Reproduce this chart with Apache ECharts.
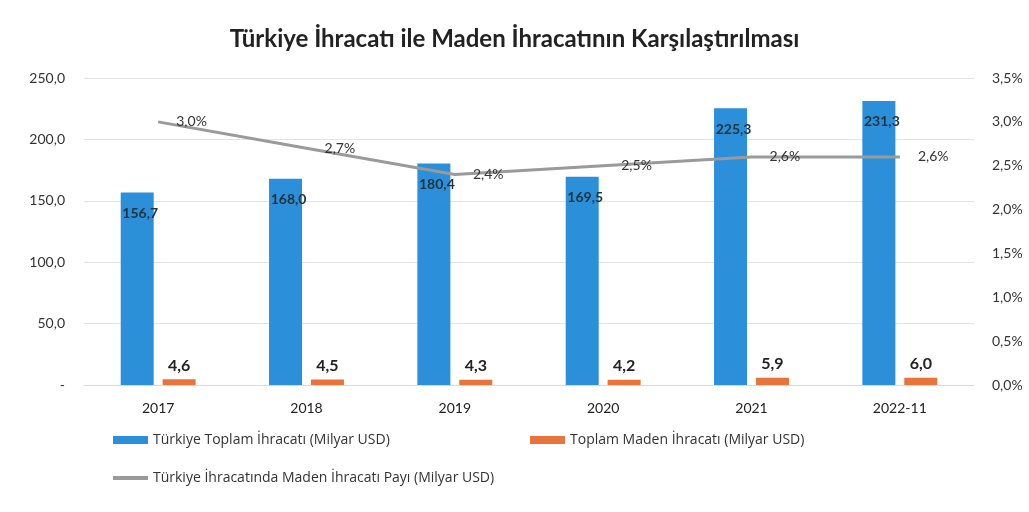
<!DOCTYPE html>
<html>
<head>
<meta charset="utf-8">
<script src="https://cdn.jsdelivr.net/npm/echarts@6/dist/echarts.min.js"></script>
<style>
  html, body { margin: 0; padding: 0; background: #fff; }
  #chart { width: 1029px; height: 512px; }
</style>
</head>
<body>
<div id="chart"></div>
<script>
  var categories = ['2017', '2018', '2019', '2020', '2021', '2022-11']
  var totalExport = [156.7, 168.0, 180.4, 169.5, 225.3, 231.3]
  var miningExport = [4.6, 4.5, 4.3, 4.2, 5.9, 6.0]
  var miningShare = [3.0, 2.7, 2.4, 2.5, 2.6, 2.6]

  var nameTotal = 'Türkiye Toplam İhracatı (Milyar USD)'
  var nameMining = 'Toplam Maden İhracatı (Milyar USD)'
  var nameShare = 'Türkiye İhracatında Maden İhracatı Payı (Milyar USD)'

  var fontFam = 'Lato, "Open Sans", sans-serif'
  var legendFont = '"Open Sans", sans-serif'

  function comma(v, d) {
    return v.toFixed(d).replace('.', ',')
  }

  var chart = echarts.init(document.getElementById('chart'))
  chart.setOption({
    animation: false,
    textStyle: { fontFamily: fontFam },
    title: {
      text: 'Türkiye İhracatı ile Maden İhracatının Karşılaştırılması',
      left: 'center',
      top: 22,
      textStyle: { fontSize: 24, fontWeight: 'bold', color: '#222', fontFamily: fontFam }
    },
    legend: [
      {
        left: 113, top: 433, padding: 0, itemWidth: 35, itemHeight: 8,
        data: [{ name: nameTotal, icon: 'rect' }],
        textStyle: { fontSize: 14, color: '#333', fontFamily: legendFont }
      },
      {
        left: 530, top: 433, padding: 0, itemWidth: 35, itemHeight: 8,
        data: [{ name: nameMining, icon: 'rect' }],
        textStyle: { fontSize: 14, color: '#333', fontFamily: legendFont }
      },
      {
        left: 113, top: 471, padding: 0, itemWidth: 35, itemHeight: 4,
        data: [{ name: nameShare, icon: 'rect' }],
        textStyle: { fontSize: 14, color: '#333', fontFamily: legendFont }
      }
    ],
    grid: { left: 84, right: 55, top: 78, bottom: 127 },
    xAxis: {
      type: 'category',
      data: categories,
      axisTick: { show: false },
      axisLine: { lineStyle: { color: '#d9d9d9' } },
      axisLabel: { margin: 16, fontSize: 14, color: '#222' }
    },
    yAxis: [
      {
        type: 'value', min: 0, max: 250, interval: 50,
        axisLabel: {
          margin: 19, fontSize: 14, color: '#333',
          formatter: function (v) { return v === 0 ? '-' : comma(v, 1) }
        },
        splitLine: { lineStyle: { color: '#e4e4e4' } }
      },
      {
        type: 'value', min: 0, max: 3.5, interval: 0.5,
        axisLabel: {
          margin: 18, fontSize: 14, color: '#333',
          formatter: function (v) { return comma(v, 1) + '%' }
        },
        splitLine: { show: false }
      }
    ],
    series: [
      {
        name: nameTotal, type: 'bar', data: totalExport,
        barWidth: 33, barGap: '27%',
        itemStyle: { color: '#2b8fd9' },
        label: {
          show: true, position: 'insideTop', distance: 14, offset: [3, 0],
          fontSize: 14, fontWeight: 'bold', color: '#1d3440',
          formatter: function (p) { return comma(p.value, 1) }
        }
      },
      {
        name: nameMining, type: 'bar', data: miningExport,
        barWidth: 33,
        itemStyle: { color: '#e8743b' },
        label: {
          show: true, position: 'top', distance: 6,
          fontSize: 16, fontWeight: 'bold', color: '#222',
          formatter: function (p) { return comma(p.value, 1) }
        }
      },
      {
        name: nameShare, type: 'line', yAxisIndex: 1, data: miningShare,
        symbol: 'circle', symbolSize: 0.1, showSymbol: true,
        lineStyle: { color: '#9a9a9a', width: 3 },
        itemStyle: { color: '#9a9a9a' },
        label: {
          show: true, position: 'right', distance: 18,
          fontSize: 14, color: '#333',
          formatter: function (p) { return comma(p.value, 1) + '%' }
        }
      }
    ]
  })
</script>
</body>
</html>
